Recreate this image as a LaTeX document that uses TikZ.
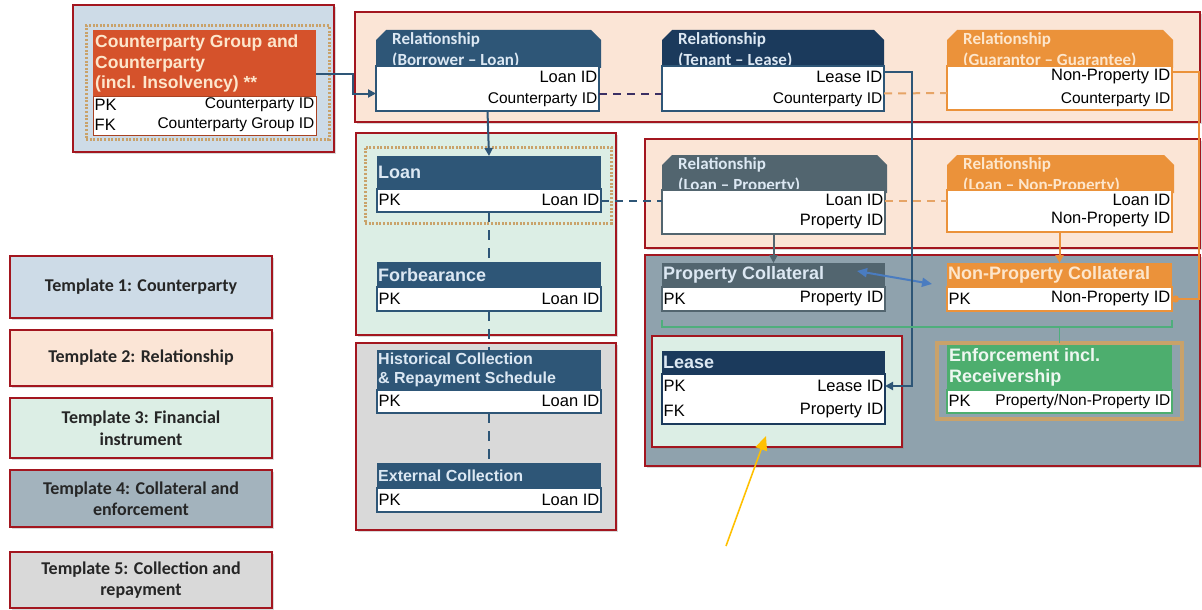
\documentclass[tikz,border=0pt]{standalone}
\usepackage{fontspec}
\setmainfont{Liberation Sans}
\newfontfamily\calfont{Carlito}
\usetikzlibrary{arrows.meta,shadows}

\definecolor{redb}{HTML}{A3161F}
\definecolor{tone}{HTML}{CDDBE7}
\definecolor{ttwo}{HTML}{FBE5D6}
\definecolor{tthree}{HTML}{DCEEE5}
\definecolor{tfour}{HTML}{8FA2AD}
\definecolor{tfourl}{HTML}{A3B3BD}
\definecolor{tfive}{HTML}{D9D9D9}
\definecolor{cpred}{HTML}{D5522B}
\definecolor{dblue}{HTML}{2E5677}
\definecolor{navy}{HTML}{1B3A5C}
\definecolor{slate}{HTML}{52656F}
\definecolor{orng}{HTML}{EB923A}
\definecolor{orngl}{HTML}{E6A466}
\definecolor{grn}{HTML}{4DAE6E}
\definecolor{grnl}{HTML}{4FAE7C}
\definecolor{tan}{HTML}{C9A26A}
\definecolor{purp}{HTML}{3B2F63}
\definecolor{bluea}{HTML}{4A7CC0}
\definecolor{yel}{HTML}{FFC000}
\definecolor{hdrtxt}{HTML}{DCE8F3}
\definecolor{orgtxt}{HTML}{FDE6CC}
\definecolor{legtxt}{HTML}{262626}

\newcommand\mkbox[6]{\node[#2, anchor=north west, minimum width=#5pt, minimum height=#6pt, inner sep=0pt, outer sep=0pt] (#1) at (#3,#4) {};}
\newcommand\chamf[2]{\fill[#2] (#1.south west) -- ([yshift=-10pt]#1.north west) -- ([xshift=10pt]#1.north west) -- ([xshift=-10pt]#1.north east) -- ([yshift=-10pt]#1.north east) -- (#1.south east) -- cycle;}

\tikzset{
  region/.style={draw=redb, line width=2pt, drop shadow={shadow xshift=2pt, shadow yshift=-2pt, opacity=0.3}},
  legend/.style={draw=redb, line width=2pt, drop shadow={shadow xshift=2pt, shadow yshift=-2pt, opacity=0.3}, anchor=north west, minimum width=262pt, inner sep=0pt, outer sep=0pt, align=center, text=legtxt, font=\calfont\bfseries\fontsize{18}{21.5}\selectfont},
  dotbox/.style={draw=tan, line width=3pt, dash pattern=on 2pt off 1.6pt},
  hdr/.style={rectangle},
  body/.style={fill=white, line width=1.5pt},
  rt/.style={font=\fontsize{16.5}{17}\selectfont, inner sep=1.5pt, text=black},
  rtc/.style={font=\fontsize{15.5}{17}\selectfont, inner sep=1.5pt, text=black},
  ht/.style={font=\bfseries\fontsize{18}{20}\selectfont, inner sep=1pt, text=hdrtxt, align=left},
  rht/.style={font=\calfont\bfseries\fontsize{17}{21}\selectfont, inner sep=0pt, text=hdrtxt, align=left},
  conn/.style={line width=2pt},
  tip/.style={-{Triangle[length=8pt,width=8pt]}},
  dsh/.style={line width=2pt, dash pattern=on 8pt off 6pt},
  vdsh/.style={line width=2.5pt, dblue, dash pattern=on 10pt off 8pt}
}

\begin{document}
\begin{tikzpicture}[x=1pt,y=-1pt]
\useasboundingbox (0,0) rectangle (1202,610);

% ---------- template regions ----------
\mkbox{tA}{region, fill=tone}{73}{5}{261}{147}
\mkbox{tB}{region, fill=ttwo}{355}{12}{845}{110}
\mkbox{tC}{region, fill=tthree}{356}{133}{260}{202}
\mkbox{tD}{region, fill=tfive}{356}{343}{260}{187}
\mkbox{tE}{region, fill=ttwo}{645}{139}{555}{109}
\mkbox{tF}{region, fill=tfour}{645}{255}{555}{211}
\mkbox{tG}{region, fill=tthree}{652}{336}{250}{111}

% ---------- legend ----------
\node[legend, fill=tone, minimum height=62pt] (L1) at (10,256) {Template 1: Counterparty};
\node[legend, fill=ttwo, minimum height=56pt] (L2) at (10,330) {Template 2: Relationship};
\node[legend, fill=tthree, minimum height=60pt] (L3) at (10,398) {Template 3: Financial\\instrument};
\node[legend, fill=tfourl, minimum height=57pt] (L4) at (10,470) {Template 4: Collateral and\\enforcement};
\node[legend, fill=tfive, minimum height=56pt] (L5) at (10,552) {Template 5: Collection and\\repayment};

% ---------- counterparty ----------
\mkbox{cpD}{dotbox}{86}{26}{243}{113}
\mkbox{cpH}{hdr, fill=cpred}{93}{30}{223}{66}
\mkbox{cpB}{body, draw=cpred!80!black, line width=1pt}{93}{96}{223}{39}
\node[ht, anchor=north west, text=orgtxt, font=\bfseries\fontsize{17.5}{20.5}\selectfont] (cpT) at (94,34) {Counterparty Group and\\Counterparty\\(incl. Insolvency) **};
\node[rt, anchor=west] (cpr1) at (93,105) {PK};
\node[rtc, anchor=east] (cpr2) at (316,105) {Counterparty ID};
\node[rt, anchor=west] (cpr3) at (93,125) {FK};
\node[rtc, anchor=east] (cpr4) at (316,125) {Counterparty Group ID};

% ---------- relationships (top) ----------
\mkbox{rAH}{}{376}{30}{225}{38}
\chamf{rAH}{dblue}
\node[rht, anchor=north west] (rAT) at (392,32) {Relationship\\(Borrower – Loan)};
\mkbox{rAB}{body, draw=dblue}{376}{66}{223}{45}
\node[rt, anchor=east] (rA1) at (599,77) {Loan ID};
\node[rtc, anchor=east] (rA2) at (599,100) {Counterparty ID};

\mkbox{rBH}{}{662}{30}{222}{38}
\chamf{rBH}{navy}
\node[rht, anchor=north west] (rBT) at (678,32) {Relationship\\(Tenant – Lease)};
\mkbox{rBB}{body, draw=dblue}{662}{66}{222}{45}
\node[rt, anchor=east] (rB1) at (884,77) {Lease ID};
\node[rtc, anchor=east] (rB2) at (884,100) {Counterparty ID};

\mkbox{rCH}{}{947}{30}{226}{38}
\chamf{rCH}{orng}
\node[rht, anchor=north west, text=orgtxt] (rCT) at (963,32) {Relationship\\(Guarantor – Guarantee)};
\mkbox{rCB}{body, draw=orng}{947}{66}{225}{44}
\node[rt, anchor=east] (rC1) at (1172,77) {Non-Property ID};
\node[rtc, anchor=east] (rC2) at (1172,100) {Counterparty ID};

% ---------- financial instrument ----------
\mkbox{loanD}{dotbox}{365}{147}{246}{76}
\mkbox{loanH}{hdr, fill=dblue}{377}{156}{224}{33}
\mkbox{loanB}{body, draw=dblue}{377}{189}{224}{23}
\node[ht, anchor=west] (loanT) at (377,172) {Loan};
\node[rt, anchor=west] (loan1) at (377,200) {PK};
\node[rt, anchor=east] (loan2) at (601,200) {Loan ID};

\mkbox{forbH}{hdr, fill=dblue}{377}{262}{224}{25}
\mkbox{forbB}{body, draw=dblue}{377}{287}{224}{24}
\node[ht, anchor=west] (forbT) at (377,275) {Forbearance};
\node[rt, anchor=west] (forb1) at (377,299) {PK};
\node[rt, anchor=east] (forb2) at (601,299) {Loan ID};

% ---------- collection ----------
\mkbox{histH}{hdr, fill=dblue}{377}{350}{224}{40}
\mkbox{histB}{body, draw=dblue}{377}{390}{224}{23}
\node[ht, anchor=north west, font=\bfseries\fontsize{16}{19}\selectfont] (histT) at (377,352) {Historical Collection\\\& Repayment Schedule};
\node[rt, anchor=west] (hist1) at (377,401) {PK};
\node[rt, anchor=east] (hist2) at (601,401) {Loan ID};

\mkbox{extH}{hdr, fill=dblue}{377}{463}{224}{25}
\mkbox{extB}{body, draw=dblue}{377}{488}{224}{24}
\node[ht, anchor=west, font=\bfseries\fontsize{16}{19}\selectfont] (extT) at (377,476) {External Collection};
\node[rt, anchor=west] (ext1) at (377,500) {PK};
\node[rt, anchor=east] (ext2) at (601,500) {Loan ID};

% ---------- relationships (middle) ----------
\mkbox{lpH}{}{662}{155}{225}{38}
\chamf{lpH}{slate}
\node[rht, anchor=north west] (lpT) at (678,157) {Relationship\\(Loan – Property)};
\mkbox{lpB}{body, draw=slate}{662}{190}{223}{44}
\node[rt, anchor=east] (lp1) at (885,200) {Loan ID};
\node[rt, anchor=east] (lp2) at (885,222) {Property ID};

\mkbox{lnpH}{}{947}{155}{227}{38}
\chamf{lnpH}{orng}
\node[rht, anchor=north west, text=orgtxt] (lnpT) at (963,157) {Relationship\\(Loan – Non-Property)};
\mkbox{lnpB}{body, draw=orng}{947}{190}{225}{42}
\node[rt, anchor=east] (lnp1) at (1172,200) {Loan ID};
\node[rt, anchor=east] (lnp2) at (1172,220) {Non-Property ID};

% ---------- collateral ----------
\mkbox{pcH}{hdr, fill=slate}{662}{263}{223}{24}
\mkbox{pcB}{body, draw=slate}{662}{287}{223}{24}
\node[ht, anchor=west] (pcT) at (662,275) {Property Collateral};
\node[rt, anchor=west] (pc1) at (662,299) {PK};
\node[rt, anchor=east] (pc2) at (885,299) {Property ID};

\mkbox{npH}{hdr, fill=orng}{947}{263}{225}{24}
\mkbox{npB}{body, draw=orng}{947}{287}{225}{24}
\node[ht, anchor=west, text=orgtxt] (npT) at (947,275) {Non-Property Collateral};
\node[rt, anchor=west] (np1) at (947,299) {PK};
\node[rt, anchor=east] (np2) at (1172,299) {Non-Property ID};

\mkbox{leaseH}{hdr, fill=navy}{662}{351}{223}{23}
\mkbox{leaseB}{body, draw=navy}{662}{374}{223}{50}
\node[ht, anchor=west] (leaseT) at (662,362) {Lease};
\node[rt, anchor=west] (lease1) at (662,386) {PK};
\node[rt, anchor=east] (lease2) at (885,386) {Lease ID};
\node[rt, anchor=west] (lease3) at (662,411) {FK};
\node[rt, anchor=east] (lease4) at (885,411) {Property ID};

\mkbox{enfO}{draw=tan, line width=3.5pt}{937}{343}{245}{76}
\mkbox{enfH}{hdr, fill=grn}{947}{345}{225}{45}
\mkbox{enfB}{body, draw=grn}{947}{390}{225}{23}
\node[ht, anchor=north west, text=white!90!grn, font=\bfseries\fontsize{18}{21}\selectfont] (enfT) at (948,347) {Enforcement incl.\\Receivership};
\node[rt, anchor=west] (enf1) at (947,401) {PK};
\node[rtc, anchor=east] (enf2) at (1172,401) {Property/Non-Property ID};

% ---------- connectors ----------
\draw[conn, dblue, tip] ([yshift=-11pt]cpH.east) -- ++(37,0) |- ([yshift=-5pt]rAB.west);
\draw[conn, dblue, tip] (rAB.south) -- (loanH.north);
\draw[dsh, purp] ([yshift=-5pt]rAB.east) -- ([yshift=-5pt]rBB.west);
\draw[dsh, orngl] ([yshift=-5pt]rBB.east) -- ([yshift=-5pt]rCB.west);
\draw[dsh, dblue] (loanB.east) -- (loanB.east -| lpH.west);
\draw[dsh, orngl] (lpB.east |- loanB.east) -- (lnpB.west |- loanB.east);
\draw[vdsh] (loanB.south) -- (forbH.north);
\draw[vdsh] (forbB.south) -- (histH.north);
\draw[vdsh] (histB.south) -- (extH.north);
\draw[conn, slate, tip] (lpB.south) -- (pcH.north);
\draw[conn, orng, tip] (lnpB.south) -- (npH.north);
\draw[conn, bluea, {Triangle[length=10pt,width=9pt]}-{Triangle[length=10pt,width=9pt]}] ([xshift=-28pt,yshift=4pt]pcH.east) -- ([xshift=-15pt,yshift=-9pt]npH.west);
\draw[conn, orng, -{Circle[length=7pt]}] ([yshift=16pt]rCB.east) -- ++(27,0) |- (npB.east);
\draw[conn, dblue, tip] ([yshift=16pt]rBB.east) -- ++(28,0) |- ([yshift=13pt]leaseB.east);
\draw[conn, grnl, line width=1.6pt] ([yshift=-9pt]pcB.south west) -- ++(0,7) -| ([yshift=-9pt]npB.south east);
\draw[conn, grnl, line width=1.6pt] (enfO.north) -- ++(0,-16);
\coordinate (yA) at (726,546);
\coordinate (yB) at (766,436);
\draw[line width=1.6pt, yel, -{Triangle[length=14pt,width=12pt]}] (yA) -- (yB);
\end{tikzpicture}
\end{document}
